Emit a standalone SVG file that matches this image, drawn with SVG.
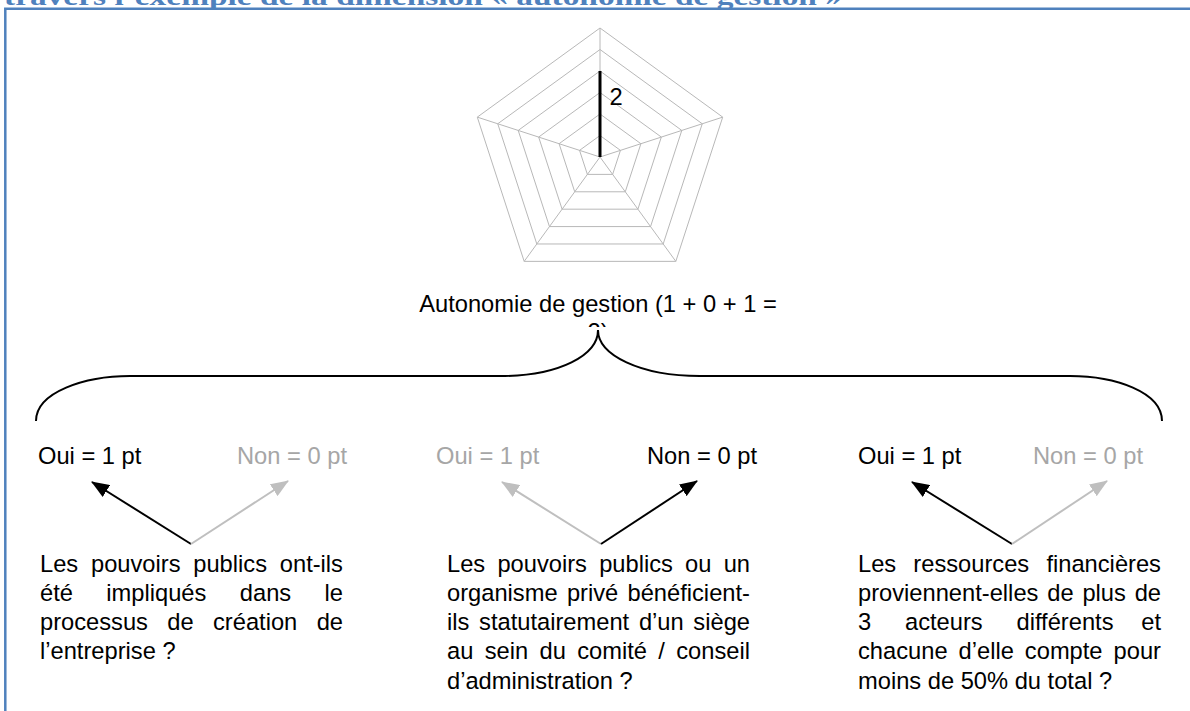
<svg xmlns="http://www.w3.org/2000/svg" width="1190" height="711" viewBox="0 0 1190 711">
<defs>
<style>
.t{font-family:"Liberation Sans",Arial,sans-serif;font-size:23.7px;fill:#000}
.g{fill:#A6A6A6}
.grid{fill:none;stroke:#B8B8B8;stroke-width:1}
.ab{stroke:#000;stroke-width:2;fill:none}
.ag{stroke:#BFBFBF;stroke-width:2;fill:none}
</style>
<marker id="hb" markerUnits="userSpaceOnUse" markerWidth="18" markerHeight="14" refX="17" refY="7" orient="auto"><path d="M0,0 L18,7 L0,14 z" fill="#000"/></marker>
<marker id="hg" markerUnits="userSpaceOnUse" markerWidth="18" markerHeight="14" refX="17" refY="7" orient="auto"><path d="M0,0 L18,7 L0,14 z" fill="#BFBFBF"/></marker>
<clipPath id="clip2"><rect x="560" y="300" width="80" height="27"/></clipPath>
</defs>
<rect width="1190" height="711" fill="#fff"/>
<text x="4" y="5" font-family="'Liberation Serif',serif" font-weight="bold" font-size="26" fill="#4F81BD" textLength="838" lengthAdjust="spacingAndGlyphs">travers l’exemple de la dimension « autonomie de gestion »</text>
<g id="frame" fill="none" stroke="#4F81BD" stroke-width="2.5">
<path d="M5.3,711 V8.7 H1190"/>
</g>
<g id="radar">
<polygon class="grid" points="600,28 722.69,117.14 675.82,261.36 524.18,261.36 477.31,117.14"/>
<polygon class="grid" points="600,49.5 702.24,123.78 663.19,243.97 536.81,243.97 497.76,123.78"/>
<polygon class="grid" points="600,71 681.79,130.42 650.55,226.58 549.45,226.58 518.21,130.42"/>
<polygon class="grid" points="600,92.5 661.34,137.07 637.91,209.18 562.09,209.18 538.66,137.07"/>
<polygon class="grid" points="600,114 640.9,143.71 625.27,191.79 574.73,191.79 559.1,143.71"/>
<polygon class="grid" points="600,135.5 620.45,150.36 612.64,174.39 587.36,174.39 579.55,150.36"/>
<path class="grid" d="M600,157 L600,28 M600,157 L722.69,117.14 M600,157 L675.82,261.36 M600,157 L524.18,261.36 M600,157 L477.31,117.14"/>
<line x1="600" y1="157" x2="600" y2="71" stroke="#000" stroke-width="3"/>
<text class="t" x="609.5" y="105">2</text>
</g>
<g id="title-node">
<text class="t" x="598" y="311.7" text-anchor="middle">Autonomie de gestion (1 + 0 + 1 =</text>
<text class="t" x="598" y="339.5" text-anchor="middle" clip-path="url(#clip2)">2)</text>
</g>
<g id="connectors">
<path d="M36,421 C36,392 85,376 130,376 L500,376 C560,376 598,355 598,330 C598,355 640,376 700,376 L1070,376 C1115,376 1162,392 1162,421" fill="none" stroke="#000" stroke-width="2"/>
<line class="ab" x1="191" y1="544" x2="92" y2="482" marker-end="url(#hb)"/>
<line class="ag" x1="191" y1="544" x2="288" y2="481" marker-end="url(#hg)"/>
<line class="ag" x1="601" y1="544" x2="502" y2="482" marker-end="url(#hg)"/>
<line class="ab" x1="601" y1="544" x2="697" y2="481" marker-end="url(#hb)"/>
<line class="ab" x1="1012" y1="544" x2="912" y2="482" marker-end="url(#hb)"/>
<line class="ag" x1="1012" y1="544" x2="1107" y2="481" marker-end="url(#hg)"/>
</g>
<g id="q1">
<text class="t" x="38" y="464">Oui = 1 pt</text>
<text class="t g" x="237" y="464">Non = 0 pt</text>
<text class="t" y="571.5"><tspan x="40">Les</tspan><tspan x="90.96">pouvoirs</tspan><tspan x="193.28">publics</tspan><tspan x="279.79">ont-ils</tspan></text>
<text class="t" y="600.8"><tspan x="40">été</tspan><tspan x="106.33">impliqués</tspan><tspan x="239.8">dans</tspan><tspan x="324.57">le</tspan></text>
<text class="t" y="630.1"><tspan x="40">processus</tspan><tspan x="167.33">de</tspan><tspan x="213.01">création</tspan><tspan x="316.64">de</tspan></text>
<text class="t" x="40" y="659.4">l’entreprise ?</text>
</g>
<g id="q2">
<text class="t g" x="436" y="464">Oui = 1 pt</text>
<text class="t" x="647" y="464">Non = 0 pt</text>
<text class="t" y="571.5"><tspan x="447">Les</tspan><tspan x="497.4">pouvoirs</tspan><tspan x="599.16">publics</tspan><tspan x="685.11">ou</tspan><tspan x="723.66">un</tspan></text>
<text class="t" y="600.8"><tspan x="447">organisme</tspan><tspan x="566.88">privé</tspan><tspan x="627.49">bénéficient-</tspan></text>
<text class="t" y="630.1"><tspan x="447">ils</tspan><tspan x="479.05">statutairement</tspan><tspan x="638.89">d’un</tspan><tspan x="693.36">siège</tspan></text>
<text class="t" y="659.4"><tspan x="447">au</tspan><tspan x="484.69">sein</tspan><tspan x="539.49">du</tspan><tspan x="577.18">comité</tspan><tspan x="658.31">/</tspan><tspan x="676.24">conseil</tspan></text>
<text class="t" x="447" y="688.7">d’administration ?</text>
</g>
<g id="q3">
<text class="t" x="858" y="464">Oui = 1 pt</text>
<text class="t g" x="1033" y="464">Non = 0 pt</text>
<text class="t" y="571.5"><tspan x="858">Les</tspan><tspan x="913.36">ressources</tspan><tspan x="1046.41">financières</tspan></text>
<text class="t" y="600.8"><tspan x="858">proviennent-elles</tspan><tspan x="1047.24">de</tspan><tspan x="1082.39">plus</tspan><tspan x="1134.65">de</tspan></text>
<text class="t" y="630.1"><tspan x="858">3</tspan><tspan x="905">acteurs</tspan><tspan x="1016.53">différents</tspan><tspan x="1141.24">et</tspan></text>
<text class="t" y="659.4"><tspan x="858">chacune</tspan><tspan x="958.57">d’elle</tspan><tspan x="1024.87">compte</tspan><tspan x="1113.57">pour</tspan></text>
<text class="t" x="858" y="688.7">moins de 50% du total ?</text>
</g>
</svg>
